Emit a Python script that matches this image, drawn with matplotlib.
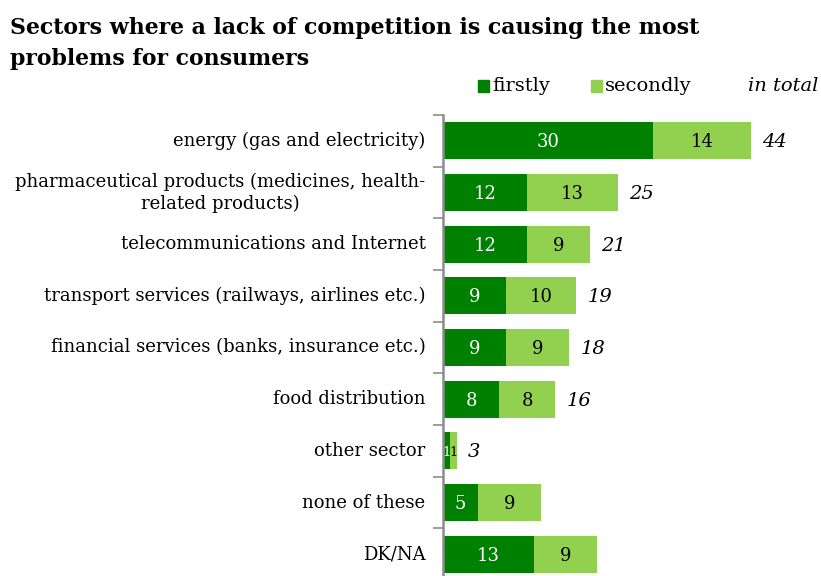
import matplotlib
matplotlib.use("Agg")
import matplotlib.pyplot as plt

categories = [
    "energy (gas and electricity)",
    "pharmaceutical products (medicines, health-\nrelated products)",
    "telecommunications and Internet",
    "transport services (railways, airlines etc.)",
    "financial services (banks, insurance etc.)",
    "food distribution",
    "other sector",
    "none of these",
    "DK/NA",
]
firstly = [30, 12, 12, 9, 9, 8, 1, 5, 13]
secondly = [14, 13, 9, 10, 9, 8, 1, 9, 9]
in_total = [44, 25, 21, 19, 18, 16, 3, None, None]

DARK = "#008000"
LIGHT = "#92D050"
FONT = "DejaVu Serif"

W, H = 821, 576
fig = plt.figure(figsize=(W / 100, H / 100), dpi=100)

# axes placed in pixel terms
ax_left, ax_right = 443, 821
ax_top, ax_bottom = 115, 580
ax = fig.add_axes([ax_left / W, 1 - ax_bottom / H, (ax_right - ax_left) / W, (ax_bottom - ax_top) / H])
ax.set_xlim(0, 54)
n = len(categories)
ax.set_ylim(n - 0.5, -0.5)

y = list(range(n))
ax.barh(y, firstly, height=0.72, color=DARK, edgecolor="none")
ax.barh(y, secondly, left=firstly, height=0.72, color=LIGHT, edgecolor="none")

for i in range(n):
    small = firstly[i] + secondly[i] < 4
    fs = 9.5 if small else 13
    ax.text(firstly[i] / 2, i + 0.03, str(firstly[i]), ha="center", va="center",
            color="white", fontsize=fs, family=FONT)
    ax.text(firstly[i] + secondly[i] / 2, i + 0.03, str(secondly[i]), ha="center", va="center",
            color="black", fontsize=fs, family=FONT)
    if in_total[i] is not None:
        ax.text(firstly[i] + secondly[i] + 1.6, i + 0.03, str(in_total[i]), ha="left", va="center",
                color="black", fontsize=14, family=FONT, style="italic")

# category labels
for i, c in enumerate(categories):
    ax.text(-2.5, i, c, ha="right", va="center", multialignment="center", fontsize=13,
            family=FONT, linespacing=1.25, transform=ax.transData)

ax.set_yticks([i + 0.5 for i in range(-1, n - 1)])
ax.set_yticklabels([])
ax.tick_params(axis="y", length=7, width=1.2, color="#8c8c8c", direction="out")
ax.set_xticks([])
for s in ["top", "right", "bottom"]:
    ax.spines[s].set_visible(False)
ax.spines["left"].set_color("#8c8c8c")
ax.spines["left"].set_linewidth(1.8)

# title
fig.text(10 / W, 1 - 17 / H, "Sectors where a lack of competition is causing the most\nproblems for consumers",
         ha="left", va="top", fontsize=15.8, fontweight="bold", family=FONT, linespacing=1.5)

# legend
def legend_item(xpx, label, color):
    fig.patches.append(plt.Rectangle(((xpx) / W, 1 - 92 / H), 11 / W, 12 / H,
                                     transform=fig.transFigure, color=color, figure=fig))
    fig.text((xpx + 14) / W, 1 - 86 / H, label, ha="left", va="center", fontsize=14, family=FONT)

legend_item(478, "firstly", DARK)
legend_item(591, "secondly", LIGHT)
fig.text(818 / W, 1 - 86 / H, "in total", ha="right", va="center", fontsize=14,
         family=FONT, style="italic")

fig.savefig("out.png", dpi=100)
